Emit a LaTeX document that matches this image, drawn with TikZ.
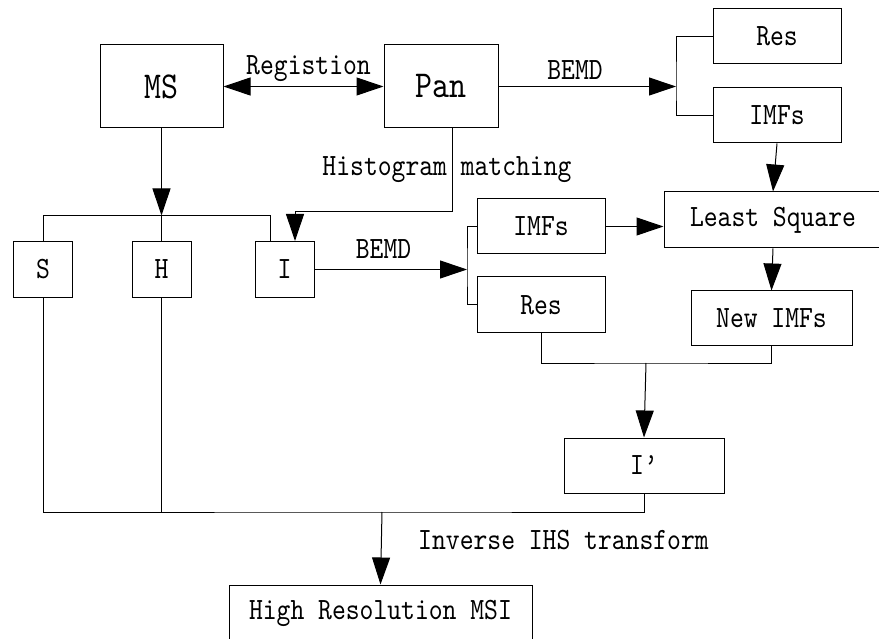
\documentclass[tikz,border=0pt]{standalone}
\usepackage{fontspec}
\newfontfamily\lblfont{lmmono10-regular}[Extension=.otf,FakeStretch=0.85]
\usetikzlibrary{arrows.meta,positioning}
\tikzstyle{block} = [rectangle, draw, line width=1pt, inner sep=0pt,
    minimum width=128pt, minimum height=55pt,
    font=\lblfont\fontsize{31}{31}\selectfont]
\tikzstyle{bigblock} = [block, minimum height=83pt,
    font=\lblfont\fontsize{38}{38}\selectfont]
\tikzstyle{small} = [block, minimum width=59pt, minimum height=56pt]
\tikzstyle{wire} = [draw, line width=1pt]
\tikzstyle{line} = [wire, -{Triangle[length=27pt,width=18pt]}]
\tikzstyle{lbl} = [anchor=base, inner sep=0pt,
    font=\lblfont\fontsize{31}{31}\selectfont]

\begin{document}
\begin{tikzpicture}[x=1pt, y=-1pt]
    \useasboundingbox (0,0) rectangle (879,639);
    % Place nodes
    % Inputs
    \node [bigblock, minimum width=123pt] (MS) at (161.5,86.5) {MS};
    \node [bigblock, minimum width=114pt, right=160pt of MS] (Pan) {Pan};
    \node [block] (ResA) at (777,36.5) {Res};
    \node [block] (IMFsA) at (777,115.5) {IMFs};

    % IHS components
    \node [small] (S) at (43,269.5) {S};
    \node [small] (H) at (161.5,269.5) {H};
    \node [small] (I) at (284.5,269.5) {I};

    % Decomposition and fusion
    \node [block] (IMFsB) at (541,226.5) {IMFs};
    \node [block, minimum height=56pt] (ResB) at (541,305) {Res};
    \node [block, minimum width=218pt, minimum height=56pt] (LS) at (773,220) {Least Square};
    \node [block, minimum width=161pt] (NewIMFs) at (771.5,318.5) {New IMFs};
    \node [block, minimum width=160pt] (Iprime) at (644,465.5) {I’};
    \node [block, minimum width=303pt, minimum height=56pt] (HR) at (380.5,613) {High Resolution MSI};

    % Junctions
    \coordinate (forkA) at (676,86.5);
    \coordinate (hubA) at (161.5,215.5);
    \coordinate (histB) at (295,211.5);
    \coordinate (forkB) at (467,269.5);
    \coordinate (joinC) at (646,363);
    \coordinate (joinD) at (382,512);

    % Draw edges
    % Registration and BEMD of Pan
    \path [line, {Triangle[length=27pt,width=18pt]}-{Triangle[length=27pt,width=18pt]}] (MS.east) -- (Pan.west);
    \node [lbl] (regTxt) at (308.5,75) {Registion};
    \path [line] (Pan.east) -- (forkA);
    \node [lbl] (bemdA) at (575,80) {BEMD};
    \path [wire] (ResA.west) -| (forkA) |- (IMFsA.west);
    \path [line] (IMFsA.south) -- (LS.north);

    % IHS transform
    \path [line] (MS.south) -- (hubA);
    \path [wire] (S.north) |- (hubA) -| ([xshift=15.5pt]I.north west);
    \path [wire] (hubA) -- (H.north);

    % Histogram matching
    \path [line] ([xshift=11pt]Pan.south) |- (histB) -- (histB |- I.north);
    \node [lbl] (histTxt) at (447,176) {Histogram matching};

    % BEMD of I
    \path [line] (I.east) -- (forkB);
    \node [lbl] (bemdB) at (383.5,259) {BEMD};
    \path [wire] (IMFsB.west) -| (forkB) |- (ResB.west);
    \path [line] (IMFsB.east) -- (IMFsB.east -| LS.west);
    \path [line] (LS.south) -- (NewIMFs.north);
    \path [wire] (ResB.south) |- (joinC) -| (NewIMFs.south);
    \path [line] (joinC) -- (Iprime.north);

    % Inverse transform
    \path [wire] (S.south) |- (joinD) -| (Iprime.south);
    \path [wire] (H.south) -- (H.south |- joinD);
    \path [line] (joinD) -- (HR.north);
    \node [lbl] (invTxt) at (563.5,549) {Inverse IHS transform};
\end{tikzpicture}
\end{document}
